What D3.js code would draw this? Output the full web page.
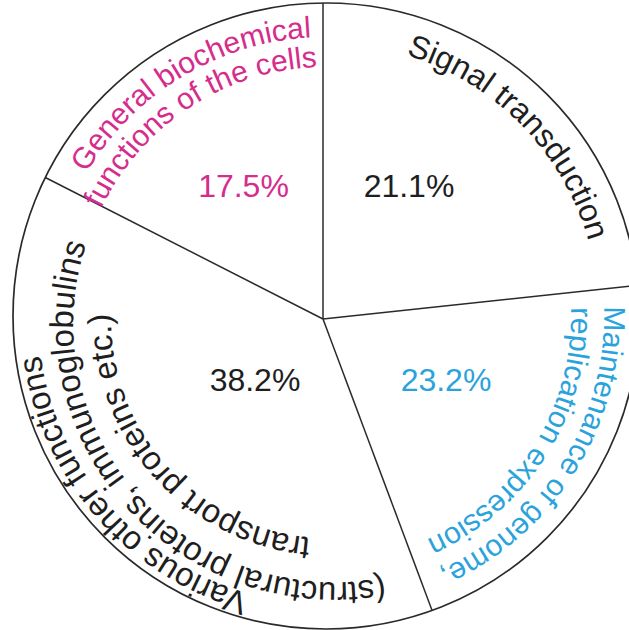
<!DOCTYPE html>
<html>
<head>
<meta charset="utf-8">
<script src="https://cdn.jsdelivr.net/npm/d3@7"></script>
<style>
  html, body { margin: 0; padding: 0; background: #fff; }
  svg { display: block; }
</style>
</head>
<body>
<div id="chart"></div>
<script>
// ---------------- DATA ----------------
const categories = [
  "Signal transduction",
  "Maintenance of genome, replication expression",
  "Various other functions (structural proteins, immunoglobulins transport proteins etc.)",
  "General biochemical functions of the cells"
];
// printed percentages
const percentLabels = ["21.1%", "23.2%", "38.2%", "17.5%"];
// wedge sizes as actually drawn in the figure (percent of the circle)
const drawnShares = [23.3, 21.0, 38.2, 17.5];
// label lines per category (outer line first)
const labelLines = [
  ["Signal transduction"],
  ["Maintenance of genome,", "replication expression"],
  ["Various other functions", "(structural proteins, immunoglobulins", "transport proteins etc.)"],
  ["General biochemical", "functions of the cells"]
];

// ---------------- LAYOUT / STYLE ----------------
const W = 629, H = 630;
const circ = { x: 326, y: 316, r: 313 };
const apex = { x: 323, y: 319 };
const colors = ["#1e1e1e", "#2aa3dc", "#1e1e1e", "#d62c8c"];
const font = "'Liberation Sans', Arial, Helvetica, sans-serif";
const groupSize = [32, 30, 33, 30];
const numSize = 32;

// per-line placement: baseline radius at anchor (r0) and 120deg further along (r1),
// anchor angle in degrees (clockwise from north), anchor type
const linePlacement = [
  [{ r0: 273, r1: 273, a: 17, anchor: "start" }],
  [{ r0: 278, r1: 278, a: 88, anchor: "start" }, { r0: 245, r1: 245, a: 88, anchor: "start" }],
  [{ r0: 288, r1: 288, a: 195.5, anchor: "start" },
   { r0: 268, r1: 250, a: 167.5, anchor: "start" },
   { r0: 222, r1: 212, a: 184, anchor: "start" }],
  [{ r0: 279, r1: 279, a: -3, anchor: "end" }, { r0: 249, r1: 249, a: -2, anchor: "end" }]
];
const numberPos = [
  { x: 409, y: 197 },
  { x: 446, y: 391 },
  { x: 255, y: 391 },
  { x: 243.5, y: 197 }
];

// ---------------- DRAW ----------------
const svg = d3.select("#chart").append("svg")
  .attr("width", W).attr("height", H)
  .attr("viewBox", `0 0 ${W} ${H}`);

svg.append("rect").attr("width", W).attr("height", H).attr("fill", "#fff");

const pie = d3.pie().sort(null).value(d => d)
  .startAngle(0).endAngle(2 * Math.PI);
const arcs = pie(drawnShares);

// circle outline
svg.append("circle")
  .attr("cx", circ.x).attr("cy", circ.y).attr("r", circ.r)
  .attr("fill", "none").attr("stroke", "#2a2a2a").attr("stroke-width", 1.7);

// spokes from apex to circle at each wedge start angle
function hitCircle(a) {
  const ux = Math.sin(a), uy = -Math.cos(a);
  const dx = apex.x - circ.x, dy = apex.y - circ.y;
  const b = dx * ux + dy * uy;
  const c = dx * dx + dy * dy - circ.r * circ.r;
  const t = -b + Math.sqrt(b * b - c);
  return [apex.x + t * ux, apex.y + t * uy];
}
svg.append("g").selectAll("line")
  .data(arcs)
  .join("line")
  .attr("x1", apex.x).attr("y1", apex.y)
  .attr("x2", d => hitCircle(d.startAngle)[0])
  .attr("y2", d => hitCircle(d.startAngle)[1])
  .attr("stroke", "#2a2a2a").attr("stroke-width", 1.5);

// curved label paths (clockwise, radius may drift linearly for spiral lines)
const defs = svg.append("defs");
const lineGen = d3.line().curve(d3.curveCatmullRom);
function spiralPath(p) {
  const span = 170, n = 120;
  const aStart = p.anchor === "end" ? p.a - span : p.a;
  const pts = d3.range(n + 1).map(k => {
    const deg = aStart + span * k / n;
    const frac = p.anchor === "end" ? (p.a - deg) / 120 : (deg - p.a) / 120;
    const r = p.r0 + (p.r1 - p.r0) * frac;
    const a = deg * Math.PI / 180;
    return [circ.x + r * Math.sin(a), circ.y - r * Math.cos(a)];
  });
  return lineGen(pts);
}
const labelG = svg.append("g").attr("font-family", font);
labelLines.forEach((lines, i) => {
  lines.forEach((txt, j) => {
    const p = linePlacement[i][j];
    const id = `lp-${i}-${j}`;
    defs.append("path").attr("id", id).attr("d", spiralPath(p));
    labelG.append("text")
      .attr("fill", colors[i])
      .attr("font-size", groupSize[i])
      .append("textPath")
      .attr("href", `#${id}`)
      .attr("startOffset", p.anchor === "end" ? "100%" : "0%")
      .attr("text-anchor", p.anchor)
      .text(txt);
  });
});

// percentages
svg.append("g").attr("font-family", font).attr("font-size", numSize)
  .selectAll("text")
  .data(percentLabels)
  .join("text")
  .attr("x", (d, i) => numberPos[i].x)
  .attr("y", (d, i) => numberPos[i].y)
  .attr("text-anchor", "middle")
  .attr("fill", (d, i) => colors[i])
  .text(d => d);
</script>
</body>
</html>
